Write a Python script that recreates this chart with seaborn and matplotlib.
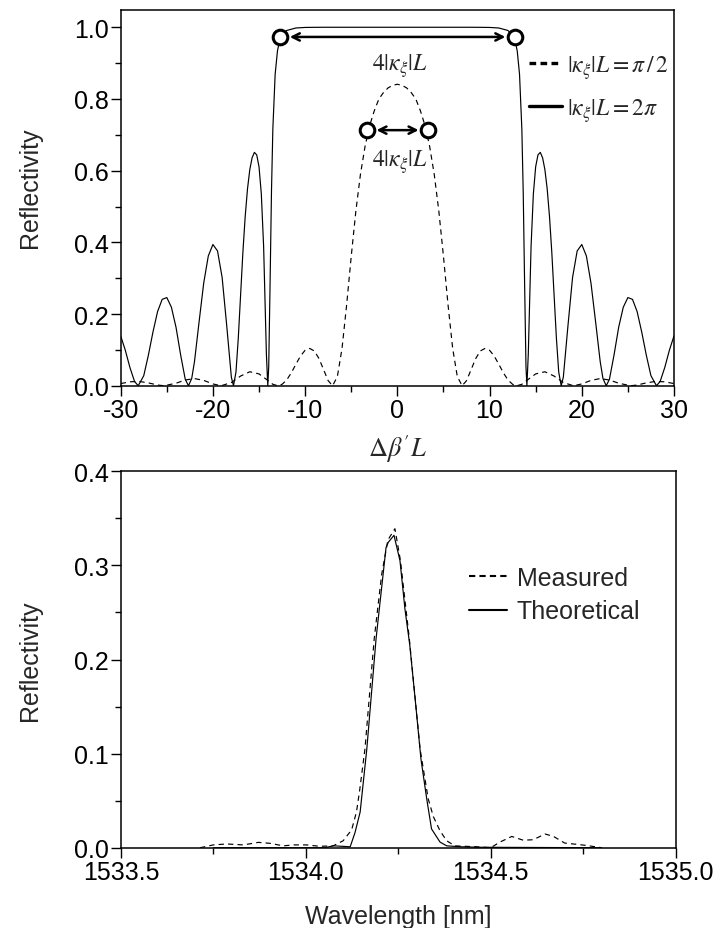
import matplotlib
matplotlib.use("Agg")
import matplotlib.pyplot as plt
from matplotlib.lines import Line2D
from matplotlib.ticker import MultipleLocator, FormatStrFormatter
import seaborn as sns
import numpy as np

# ---------------- data ----------------
# Top panel: kappa*L = 2*pi (solid)
dbl_solid = [-30, -29.5, -29, -28.5, -28.1, -27.5, -27, -26.5, -26, -25.5, -25, -24.5, -24, -23.5, -23,
             -22.65, -22.3, -22, -21.5, -21, -20.5, -20, -19.5, -19, -18.5, -18, -17.77, -17.5, -17.25,
             -17, -16.75, -16.5, -16.25, -16, -15.75, -15.5, -15.25, -15, -14.75, -14.5, -14.2, -14.05,
             -13.95, -13.8, -13.65, -13.5, -13.25, -13, -12.8, -12.566, -12, -11, -10, -9, -8, -6, -4, -2,
             0, 2, 4, 6, 8, 9, 10, 11, 12, 12.566, 12.8, 13, 13.25, 13.5, 13.65, 13.8, 13.95, 14.05, 14.2,
             14.5, 14.75, 15, 15.25, 15.5, 15.75, 16, 16.25, 16.5, 16.75, 17, 17.25, 17.5, 17.77, 18, 18.5,
             19, 19.5, 20, 20.5, 21, 21.5, 22, 22.3, 22.65, 23, 23.5, 24, 24.5, 25, 25.5, 26, 26.5, 27,
             27.5, 28.1, 28.5, 29, 29.5, 30]
refl_solid = [0.139, 0.099, 0.051, 0.012, 0.0, 0.028, 0.085, 0.150, 0.207, 0.241, 0.246, 0.219, 0.163, 0.086, 0.018,
              0.0, 0.020, 0.067, 0.178, 0.286, 0.362, 0.394, 0.376, 0.302, 0.167, 0.024, 0.0, 0.038, 0.132,
              0.252, 0.372, 0.472, 0.549, 0.603, 0.636, 0.651, 0.644, 0.611, 0.535, 0.388, 0.088, 0.0,
              0.052, 0.286, 0.540, 0.717, 0.869, 0.934, 0.959, 0.975, 0.991, 0.998, 0.9995, 0.9998, 1.0, 1.0, 1.0, 1.0,
              1.0, 1.0, 1.0, 1.0, 1.0, 0.9998, 0.9995, 0.998, 0.991, 0.975, 0.959, 0.934, 0.869, 0.717, 0.540, 0.286, 0.052, 0.0, 0.088,
              0.388, 0.535, 0.611, 0.644, 0.651, 0.636, 0.603, 0.549, 0.472, 0.372, 0.252, 0.132, 0.038, 0.0, 0.024, 0.167,
              0.302, 0.376, 0.394, 0.362, 0.286, 0.178, 0.067, 0.020, 0.0, 0.018, 0.086, 0.163, 0.219, 0.246, 0.241, 0.207, 0.150, 0.085,
              0.028, 0.0, 0.012, 0.051, 0.099, 0.139]

# Top panel: kappa*L = pi/2 (dashed)
dbl_dash = [-30, -29, -28, -27, -26, -25.3, -24, -23, -22, -21, -20, -19.1, -18, -17, -16, -15, -14, -13.5,
            -12.95, -12.5, -12, -11.5, -11, -10.5, -10, -9.5, -9, -8.5, -8, -7.5, -7.02, -6.5, -6, -5.5, -5,
            -4.5, -4, -3.5, -3, -2.5, -2, -1.5, -1, -0.5, 0, 0.5, 1, 1.5, 2, 2.5, 3, 3.5, 4, 4.5, 5, 5.5, 6,
            6.5, 7.02, 7.5, 8, 8.5, 9, 9.5, 10, 10.5, 11, 11.5, 12, 12.5, 12.95, 13.5, 14, 15, 16, 17, 18, 19.1,
            20, 21, 22, 23, 24, 25.3, 26, 27, 28, 29, 30]
refl_dash = [0.006, 0.011, 0.012, 0.008, 0.002, 0.0, 0.007, 0.016, 0.020, 0.015, 0.005, 0.0, 0.009, 0.027, 0.039, 0.033, 0.014, 0.004,
             0.0, 0.004, 0.016, 0.036, 0.060, 0.083, 0.099, 0.104, 0.097, 0.076, 0.045, 0.014, 0.0, 0.026, 0.104, 0.225, 0.361,
             0.487, 0.590, 0.668, 0.726, 0.767, 0.800, 0.818, 0.831, 0.838, 0.841, 0.838, 0.831, 0.818, 0.800, 0.767, 0.726, 0.668, 0.590, 0.487, 0.361, 0.225, 0.104,
             0.026, 0.0, 0.014, 0.045, 0.076, 0.097, 0.104, 0.099, 0.083, 0.060, 0.036, 0.016, 0.004, 0.0, 0.004, 0.014, 0.033, 0.039, 0.027, 0.009, 0.0,
             0.005, 0.015, 0.020, 0.016, 0.007, 0.0, 0.002, 0.008, 0.012, 0.011, 0.006]

# bandwidth markers (open circles) and their arrows
mark_x = [-12.72, 12.77, -3.32, 3.36]
mark_y = [0.973, 0.973, 0.713, 0.713]
bw_label = r"$4|\kappa_{\xi}|L$"
top_legend = [r"$|\kappa_{\xi}|L=\pi\,/\,2$", r"$|\kappa_{\xi}|L=2\pi$"]

# Bottom panel
wl_meas = [1533.714, 1533.75, 1533.786, 1533.831, 1533.872, 1533.903, 1533.939, 1533.966, 1534.002, 1534.038,
           1534.074, 1534.101, 1534.124, 1534.137, 1534.145, 1534.160, 1534.185, 1534.205, 1534.222, 1534.241,
           1534.256, 1534.280, 1534.309, 1534.331, 1534.345, 1534.363, 1534.381, 1534.403, 1534.462, 1534.50,
           1534.525, 1534.557, 1534.588, 1534.615, 1534.647, 1534.67, 1534.70, 1534.758, 1534.80]
r_meas = [0.0, 0.003, 0.004, 0.003, 0.0057, 0.0047, 0.002, 0.003, 0.003, 0.0015,
          0.002, 0.0074, 0.019, 0.038, 0.059, 0.105, 0.222, 0.290, 0.327, 0.339,
          0.305, 0.222, 0.105, 0.052, 0.033, 0.018, 0.0074, 0.002, 0.001, 0.0,
          0.006, 0.012, 0.008, 0.0085, 0.0146, 0.012, 0.005, 0.0025, 0.0]
wl_theo = [1533.75, 1534.05, 1534.075, 1534.10, 1534.12, 1534.133, 1534.147, 1534.165, 1534.190, 1534.2036,
           1534.217, 1534.223, 1534.2385, 1534.2547, 1534.268, 1534.281, 1534.2965, 1534.3115, 1534.327,
           1534.340, 1534.363, 1534.381, 1534.42, 1534.47, 1534.80]
r_theo = [0.0, 0.0, 0.002, 0.0015, 0.001, 0.016, 0.038, 0.105, 0.222, 0.271,
          0.319, 0.3245, 0.332, 0.305, 0.254, 0.216, 0.155, 0.094, 0.052,
          0.020, 0.006, 0.002, 0.001, 0.0005, 0.0]
bottom_legend = ["Measured", "Theoretical"]

# ---------------- style ----------------
sns.set_theme(style="ticks")
plt.rcParams["font.family"] = ["Liberation Sans", "DejaVu Sans"]
plt.rcParams["mathtext.fontset"] = "stix"
plt.rcParams["axes.unicode_minus"] = False
plt.rcParams["axes.linewidth"] = 1.1
plt.rcParams["axes.edgecolor"] = "black"
plt.rcParams["xtick.color"] = "black"
plt.rcParams["ytick.color"] = "black"

TICK_FS = 18
LAB_FS = 18
LW = 0.85

fig = plt.figure(figsize=(7.21, 9.29), dpi=100)
ax1 = fig.add_axes([0.1674, 0.5837, 0.7674, 0.4044])
ax2 = fig.add_axes([0.1677, 0.0864, 0.7693, 0.4052])

def style_axes(ax):
    for s in ax.spines.values():
        s.set_visible(True)
        s.set_color("black")
        s.set_linewidth(1.1)
    ax.tick_params(axis="both", which="major", direction="out", length=7, width=1.0,
                   labelsize=TICK_FS, pad=1.5, top=False, right=False)
    ax.tick_params(axis="both", which="minor", direction="out", length=4, width=1.0,
                   top=False, right=False)
    ax.set_facecolor("white")
    ax.grid(False)

# ---------------- top panel ----------------
sns.lineplot(x=dbl_solid, y=refl_solid, ax=ax1, color="black", lw=LW, sort=False, estimator=None)
sns.lineplot(x=dbl_dash, y=refl_dash, ax=ax1, color="black", lw=LW, sort=False, estimator=None,
             linestyle=(0, (4.5, 3.5)))
ax1.set_xlim(-30, 30)
ax1.set_ylim(0, 1.048)
ax1.xaxis.set_major_locator(MultipleLocator(10))
ax1.xaxis.set_minor_locator(MultipleLocator(5))
ax1.yaxis.set_major_locator(MultipleLocator(0.2))
ax1.yaxis.set_minor_locator(MultipleLocator(0.1))
ax1.yaxis.set_major_formatter(FormatStrFormatter("%.1f"))
style_axes(ax1)
ax1.set_ylabel("Reflectivity", fontsize=LAB_FS, labelpad=23, y=0.53)
ax1.set_xlabel(r"$\Delta\beta'L$", fontsize=19, labelpad=8)

# arrows between circles
for (xa, xb, yy) in [(mark_x[0], mark_x[1], mark_y[0]), (mark_x[2], mark_x[3], mark_y[2])]:
    ax1.annotate("", xy=(xb, yy), xytext=(xa, yy),
                 arrowprops=dict(arrowstyle="<->", lw=1.8, color="black",
                                 shrinkA=7, shrinkB=7, mutation_scale=13))
ax1.scatter(mark_x, mark_y, s=110, facecolor="white", edgecolor="black", linewidths=2.2, zorder=5)
ax1.text(0.3, 0.895, bw_label, fontsize=17, ha="center", va="center")
ax1.text(0.3, 0.628, bw_label, fontsize=17, ha="center", va="center")

h_top = [Line2D([], [], color="black", lw=2.4, linestyle=(0, (2.0, 1.3))),
         Line2D([], [], color="black", lw=2.4)]
ax1.legend(h_top, top_legend, loc="upper left", bbox_to_anchor=(0.738, 0.886), frameon=False,
           fontsize=17, handlelength=1.4, handletextpad=0.2, labelspacing=0.65,
           borderpad=0, borderaxespad=0)

# ---------------- bottom panel ----------------
sns.lineplot(x=wl_meas, y=r_meas, ax=ax2, color="black", lw=LW, sort=False, estimator=None,
             linestyle=(0, (4.5, 3.5)))
sns.lineplot(x=wl_theo, y=r_theo, ax=ax2, color="black", lw=LW, sort=False, estimator=None)
ax2.set_xlim(1533.5, 1535.0)
ax2.set_ylim(0, 0.4)
ax2.xaxis.set_major_locator(MultipleLocator(0.5))
ax2.xaxis.set_minor_locator(MultipleLocator(0.25))
ax2.yaxis.set_major_locator(MultipleLocator(0.1))
ax2.yaxis.set_minor_locator(MultipleLocator(0.05))
ax2.xaxis.set_major_formatter(FormatStrFormatter("%.1f"))
ax2.yaxis.set_major_formatter(FormatStrFormatter("%.1f"))
style_axes(ax2)
ax2.set_ylabel("Reflectivity", fontsize=LAB_FS, labelpad=23)
ax2.set_xlabel("Wavelength [nm]", fontsize=LAB_FS, labelpad=15)

h_bot = [Line2D([], [], color="black", lw=1.5, linestyle=(0, (3, 2))),
         Line2D([], [], color="black", lw=1.5)]
ax2.legend(h_bot, bottom_legend, loc="upper left", bbox_to_anchor=(0.628, 0.748), frameon=False,
           fontsize=18, handlelength=1.5, handletextpad=0.4, labelspacing=0.37,
           borderpad=0, borderaxespad=0)

fig.savefig("out.png", dpi=100, facecolor="white")
